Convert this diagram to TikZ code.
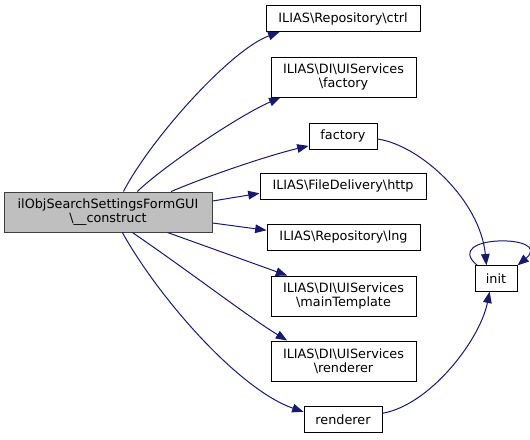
\documentclass[tikz,border=0pt]{standalone}
\usepackage{fontspec}
\setmainfont{DejaVu Sans}
\usetikzlibrary{arrows.meta}
\definecolor{cgEdge}{HTML}{191970}
\definecolor{cgRoot}{HTML}{BFBFBF}
\definecolor{cgBorder}{HTML}{404040}
\newcommand{\bsl}{\textbackslash}
\tikzset{
  cgnode/.style={
    draw=black, line width=0.75pt, fill=white, inner sep=0pt,
    minimum height=19.5pt, align=center, font=\fontsize{9.6}{10.5}\selectfont
  },
  cgtwo/.style={cgnode, minimum width=108.75pt, minimum height=30pt},
  cgroot/.style={cgnode, fill=cgRoot, draw=cgBorder, minimum width=156pt, minimum height=30pt},
  cgedge/.style={-{Triangle[length=8.5pt, width=6.5pt]}, line width=0.75pt, cgEdge}
}
\begin{document}
\begin{tikzpicture}[x=0.75pt, y=-0.75pt]
  \useasboundingbox (0,0) rectangle (530,439);
  % caller
  \node[cgroot] (main) at (108,212) {ilObjSearchSettingsFormGUI\\\bsl\_\_construct};
  % callees
  \node[cgnode, minimum width=115.5pt] (ctrl) at (343,18.5) {ILIAS\bsl Repository\bsl ctrl};
  \node[cgtwo] (uifactory) at (343.5,77) {ILIAS\bsl DI\bsl UIServices\\\bsl factory};
  \node[cgnode, minimum width=51pt] (factory) at (343,136) {factory};
  \node[cgnode, minimum width=124.5pt] (http) at (343,186) {ILIAS\bsl FileDelivery\bsl http};
  \node[cgnode, minimum width=114.75pt] (lng) at (343.5,237) {ILIAS\bsl Repository\bsl lng};
  \node[cgtwo] (maintpl) at (343.5,296) {ILIAS\bsl DI\bsl UIServices\\\bsl mainTemplate};
  \node[cgtwo] (uirenderer) at (343.5,361) {ILIAS\bsl DI\bsl UIServices\\\bsl renderer};
  \node[cgnode, minimum width=58.5pt, minimum height=20pt] (renderer) at (343,419.5) {renderer};
  \node[cgnode, minimum width=31.5pt, minimum height=19pt] (init) at (496,278.5) {init};
  % calls
  \draw[cgedge] (main.53) .. controls (150,140) and (230,50) .. (ctrl.-168);
  \draw[cgedge] (main.35) .. controls (165,165) and (240,115) .. (uifactory.-162);
  \draw[cgedge] (main.18) .. controls (210,175) and (270,155) .. (factory.-164);
  \draw[cgedge] (main.6) -- (http.-175);
  \draw[cgedge] (main.-6) -- (lng.175);
  \draw[cgedge] (main.-19) -- (maintpl.160);
  \draw[cgedge] (main.-40) .. controls (190,272) and (250,318) .. (uirenderer.160);
  \draw[cgedge] (main.-55) .. controls (160,300) and (240,390) .. (renderer.169);
  \draw[cgedge] (factory.-5) .. controls (420,145) and (480,200) .. (init.126);
  \draw[cgedge] (renderer.9) .. controls (430,405) and (480,340) .. (init.-116);
  \draw[cgedge] (init.145) .. controls (440,234) and (555,234) .. (init.north east);
\end{tikzpicture}
\end{document}
